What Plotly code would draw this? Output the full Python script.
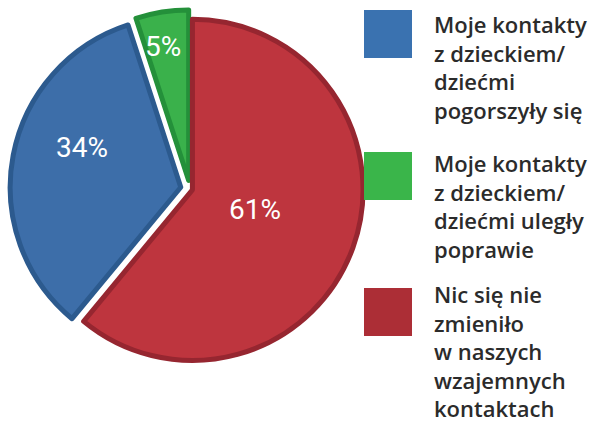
import math
import plotly.graph_objects as go

# Survey answers: how contacts with the children changed
categories = [
    "Moje kontakty<br>z dzieckiem/<br>dziećmi<br>pogorszyły się",
    "Moje kontakty<br>z dzieckiem/<br>dziećmi uległy<br>poprawie",
    "Nic się nie<br>zmieniło<br>w naszych<br>wzajemnych<br>kontaktach",
]
shares = [34, 5, 61]

slice_colors = ["#3D6EA9", "#3AB14B", "#BE353E"]
edge_colors = ["#2C5A8E", "#24903A", "#962630"]
key_colors = ["#3A72B0", "#3AB54A", "#AC2E36"]

W, H = 596, 423


def px_x(x):
    return x / W


def px_y(y):
    return 1 - y / H


# pie box in pixels (left, top, right, bottom) and slice pulls
PIE_BOX = (10, 9, 370, 369)
PULLS = [0.055, 0.05, 0.015]

# the last category opens at 12 o'clock, the others follow clockwise before it
total = sum(shares)
start = 360 * shares[-1] / total

fig = go.Figure(
    go.Pie(
        values=shares,
        labels=categories,
        textinfo="none",
        sort=False,
        direction="clockwise",
        rotation=start,
        pull=PULLS,
        marker=dict(colors=slice_colors, line=dict(color=edge_colors, width=5)),
        domain=dict(x=[px_x(PIE_BOX[0]), px_x(PIE_BOX[2])],
                    y=[px_y(PIE_BOX[3]), px_y(PIE_BOX[1])]),
        showlegend=False,
        hoverinfo="skip",
    )
)

# percentage labels, placed in polar terms around the pie centre:
# (fraction of radius, angular offset from the slice bisector in degrees)
LABEL_PLACE = [(0.68, 10.4), (0.85, -1.7), (0.40, -1.9)]
cx = (PIE_BOX[0] + PIE_BOX[2]) / 2
cy = (PIE_BOX[1] + PIE_BOX[3]) / 2
radius = min(PIE_BOX[2] - PIE_BOX[0], PIE_BOX[3] - PIE_BOX[1]) / 2 / (1 + max(PULLS))

annotations = []
angle = start
for val, (frac, offset) in zip(shares, LABEL_PLACE):
    span = 360 * val / total
    mid = math.radians(angle + span / 2 + offset)
    angle += span
    lx = cx + frac * radius * math.sin(mid)
    ly = cy - frac * radius * math.cos(mid)
    annotations.append(
        dict(
            text=f"{val}%", xref="paper", yref="paper",
            x=px_x(lx), y=px_y(ly), xanchor="center", yanchor="middle",
            showarrow=False,
            font=dict(family="Liberation Sans Narrow, Roboto", size=28, color="white"),
        )
    )

# key: large colour squares with wrapped captions
key_tops = [10, 152, 288]
text_tops = [7, 146, 277]
shapes = []
for cat, col, top, ttop in zip(categories, key_colors, key_tops, text_tops):
    shapes.append(
        dict(
            type="rect", xref="paper", yref="paper",
            x0=px_x(364), x1=px_x(412), y0=px_y(top + 48), y1=px_y(top),
            fillcolor=col, line=dict(width=0),
        )
    )
    annotations.append(
        dict(
            text=cat, xref="paper", yref="paper",
            x=px_x(432), y=px_y(ttop), xanchor="left", yanchor="top",
            align="left", showarrow=False,
            font=dict(family="Open Sans", size=22, color="#2B2B2B", weight=600),
        )
    )

fig.update_layout(
    width=W, height=H,
    margin=dict(l=0, r=0, t=0, b=0),
    paper_bgcolor="white", plot_bgcolor="white",
    shapes=shapes, annotations=annotations,
)

fig.write_html("out.html")
